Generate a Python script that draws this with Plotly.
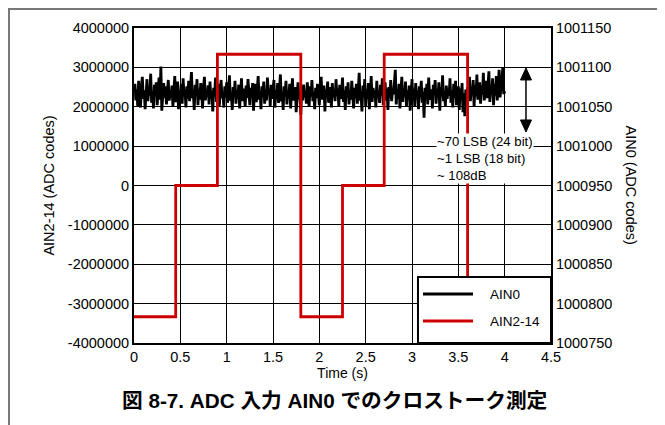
import numpy as np
import plotly.graph_objects as go

# ---- data ----
ain0_values = [
    1001068, 1001079, 1001058, 1001072, 1001051, 1001083, 1001062, 1001049, 1001075, 1001088, 1001060, 1001071, 1001047, 1001066, 1001085, 1001057, 1001073, 1001064, 1001092, 1001055,
    1001070, 1001048, 1001078, 1001063, 1001081, 1001052, 1001069, 1001087, 1001059, 1001101, 1001045, 1001067, 1001080, 1001061, 1001076, 1001053, 1001071, 1001084, 1001058, 1001066,
    1001062, 1001077, 1001050, 1001073, 1001089, 1001056, 1001068, 1001082, 1001047, 1001070, 1001063, 1001079, 1001054, 1001086, 1001065, 1001072, 1001049, 1001076, 1001060, 1001083,
    1001057, 1001071, 1001094, 1001061, 1001067, 1001046, 1001078, 1001064, 1001085, 1001052, 1001073, 1001059, 1001080, 1001066, 1001048, 1001075, 1001088, 1001058, 1001069, 1001063,
    1001077, 1001053, 1001082, 1001060, 1001071, 1001044, 1001074, 1001065, 1001087, 1001056, 1001068, 1001079, 1001050, 1001072, 1001084, 1001061, 1001066, 1001049, 1001076, 1001062,
    1001081, 1001055, 1001070, 1001090, 1001058, 1001067, 1001046, 1001075, 1001063, 1001083, 1001054, 1001071, 1001060, 1001078, 1001048, 1001069, 1001086, 1001057, 1001073, 1001064,
    1001050, 1001077, 1001061, 1001085, 1001066, 1001052, 1001074, 1001062, 1001080, 1001045, 1001068, 1001079, 1001056, 1001072, 1001089, 1001059, 1001070, 1001047, 1001076, 1001063,
    1001082, 1001054, 1001069, 1001058, 1001087, 1001065, 1001073, 1001051, 1001078, 1001060, 1001071, 1001084, 1001049, 1001067, 1001062, 1001080, 1001055, 1001074, 1001091, 1001057,
    1001068, 1001046, 1001076, 1001063, 1001083, 1001053, 1001070, 1001061, 1001079, 1001048, 1001072, 1001086, 1001058, 1001066, 1001075, 1001043, 1001069, 1001081, 1001060, 1001064,
    1001040, 1001073, 1001058, 1001078, 1001062, 1001070, 1001054, 1001081, 1001065, 1001050, 1001076, 1001063, 1001084, 1001057, 1001069, 1001047, 1001074, 1001061, 1001079, 1001066,
    1001052, 1001071, 1001088, 1001059, 1001067, 1001077, 1001044, 1001072, 1001063, 1001082, 1001055, 1001068, 1001075, 1001049, 1001080, 1001062, 1001070, 1001057, 1001085, 1001064,
    1001073, 1001051, 1001078, 1001060, 1001066, 1001087, 1001056, 1001071, 1001046, 1001076, 1001063, 1001081, 1001053, 1001069, 1001059, 1001083, 1001067, 1001048, 1001074, 1001061,
    1001079, 1001054, 1001070, 1001093, 1001058, 1001065, 1001044, 1001077, 1001062, 1001085, 1001051, 1001072, 1001060, 1001080, 1001047, 1001068, 1001089, 1001056, 1001074, 1001063,
    1001071, 1001049, 1001083, 1001061, 1001067, 1001055, 1001078, 1001064, 1001086, 1001052, 1001069, 1001081, 1001058, 1001073, 1001046, 1001075, 1001062, 1001084, 1001057, 1001070,
    1001066, 1001080, 1001097, 1001053, 1001072, 1001060, 1001079, 1001048, 1001068, 1001088, 1001056, 1001074, 1001063, 1001082, 1001050, 1001071, 1001059, 1001077, 1001045, 1001067,
    1001085, 1001058, 1001073, 1001051, 1001080, 1001064, 1001070, 1001047, 1001076, 1001062, 1001083, 1001055, 1001069, 1001036, 1001074, 1001061, 1001079, 1001053, 1001087, 1001065,
    1001059, 1001072, 1001048, 1001078, 1001066, 1001084, 1001054, 1001070, 1001062, 1001081, 1001045, 1001075, 1001063, 1001090, 1001057, 1001068, 1001051, 1001077, 1001060, 1001073,
    1001064, 1001086, 1001055, 1001071, 1001049, 1001079, 1001061, 1001083, 1001052, 1001069, 1001076, 1001046, 1001073, 1001058, 1001080, 1001043, 1001067, 1001038, 1001072, 1001056,
    1001075, 1001062, 1001088, 1001057, 1001073, 1001066, 1001084, 1001050, 1001078, 1001063, 1001091, 1001059, 1001070, 1001081, 1001054, 1001077, 1001065, 1001093, 1001058, 1001072,
    1001083, 1001061, 1001076, 1001095, 1001056, 1001074, 1001067, 1001086, 1001052, 1001079, 1001064, 1001089, 1001058, 1001077, 1001097, 1001062, 1001071, 1001085, 1001100, 1001066,
    1001070,
]
ain0_time_start = 0.0
ain0_time_end = 4.0
ain0_time = np.linspace(ain0_time_start, ain0_time_end, len(ain0_values))

ain2_time = [0.0, 0.45, 0.45, 0.9, 0.9, 1.8, 1.8, 2.25, 2.25, 2.7, 2.7, 3.6, 3.6, 4.0]
ain2_values = [-3333333, -3333333, 0, 0, 3333333, 3333333, -3333333, -3333333, 0, 0, 3333333, 3333333, -3333333, -3333333]

x_ticks = [0, 0.5, 1, 1.5, 2, 2.5, 3, 3.5, 4, 4.5]
left_ticks = [-4000000, -3000000, -2000000, -1000000, 0, 1000000, 2000000, 3000000, 4000000]
right_ticks = [1000750, 1000800, 1000850, 1000900, 1000950, 1001000, 1001050, 1001100, 1001150]

series_names = ["AIN0", "AIN2-14"]
series_colors = ["black", "#cc0000"]
annotation_lines = ["~70 LSB (24 bit)", "~1 LSB (18 bit)", "~ 108dB"]
caption = "図 8-7. ADC 入力 AIN0 でのクロストーク測定"

FONT = "Liberation Sans, Arial, sans-serif"
TICK = 14.5

fig = go.Figure()
fig.add_trace(go.Scatter(
    x=ain0_time, y=ain0_values, name=series_names[0], mode="lines",
    line=dict(color=series_colors[0], width=2.8), yaxis="y", showlegend=False,
))
fig.add_trace(go.Scatter(
    x=ain2_time, y=ain2_values, name=series_names[1], mode="lines",
    line=dict(color=series_colors[1], width=2.8), yaxis="y2", showlegend=False,
))

fig.update_layout(
    width=665, height=425,
    margin=dict(l=126, r=122, t=20, b=90),
    paper_bgcolor="white", plot_bgcolor="white",
    font=dict(family=FONT, size=TICK, color="black"),
    showlegend=False,
    xaxis=dict(
        range=[0, 4.5], tickvals=x_ticks, ticktext=[str(v) for v in x_ticks],
        tickfont=dict(size=TICK),
        showgrid=True, gridcolor="black", gridwidth=1,
        showline=True, linecolor="black", linewidth=2, mirror=True,
        zeroline=False, ticks="",
        title=dict(text="Time (s)", font=dict(size=14), standoff=0),
    ),
    yaxis=dict(
        range=[1000750, 1001150], tickvals=right_ticks,
        ticktext=[str(v) for v in right_ticks], tickfont=dict(size=TICK),
        side="right", showgrid=False, zeroline=False, ticks="",
        showline=True, linecolor="black", linewidth=2,
    ),
    yaxis2=dict(
        range=[-4000000, 4000000], tickvals=left_ticks,
        ticktext=[str(v) for v in left_ticks], tickfont=dict(size=TICK),
        side="left", overlaying="y", anchor="x",
        showgrid=True, gridcolor="black", gridwidth=1,
        zeroline=False, ticks="",
        showline=True, linecolor="black", linewidth=2,
    ),
)

# axis titles
fig.add_annotation(
    xref="paper", yref="paper", x=-0.206, y=0.5, xanchor="center", yanchor="middle",
    text="AIN2-14 (ADC codes)", textangle=-90, showarrow=False,
    font=dict(size=14.5),
)
fig.add_annotation(
    xref="paper", yref="paper", x=1.194, y=0.5, xanchor="center", yanchor="middle",
    text="AIN0 (ADC codes)", textangle=90, showarrow=False,
    font=dict(size=14.5),
)

# double-headed arrow drawn as shapes (paper coordinates)
ax_x = 0.940
top_tip, top_base = 0.873, 0.835
bot_tip, bot_base = 0.6698, 0.708
half_w = 0.0132
fig.add_shape(
    type="line", xref="paper", yref="paper",
    x0=ax_x, x1=ax_x, y0=bot_base, y1=top_base,
    line=dict(color="black", width=1.5), layer="above",
)
for tip, base in [(top_tip, top_base), (bot_tip, bot_base)]:
    fig.add_shape(
        type="path", xref="paper", yref="paper",
        path=f"M {ax_x},{tip} L {ax_x - half_w},{base} L {ax_x + half_w},{base} Z",
        fillcolor="black", line=dict(color="black", width=1), layer="above",
    )

# annotation text
fig.add_annotation(
    xref="paper", yref="paper", x=0.724, y=0.667, xanchor="left", yanchor="top",
    text="<br>".join(annotation_lines), align="left",
    showarrow=False, bgcolor="white", font=dict(size=13.2), borderpad=0,
)

# custom legend
fig.add_shape(
    type="rect", xref="paper", yref="paper",
    x0=0.681, x1=1.0, y0=0.0, y1=0.2095,
    fillcolor="white", line=dict(color="black", width=2), layer="above",
)
legend_line_y = [0.1556, 0.0698]
legend_text_y = [0.1524, 0.0667]
for name, color, ly, ty in zip(series_names, series_colors, legend_line_y, legend_text_y):
    fig.add_shape(
        type="line", xref="paper", yref="paper",
        x0=0.693, x1=0.813, y0=ly, y1=ly,
        line=dict(color=color, width=2.8), layer="above",
    )
    fig.add_annotation(
        xref="paper", yref="paper", x=0.849, y=ty, xanchor="left", yanchor="middle",
        text=name, showarrow=False, font=dict(size=13.5),
    )

# figure caption
fig.add_annotation(
    xref="paper", yref="paper", x=0.480, y=-0.181, xanchor="center", yanchor="middle",
    text="<b>" + caption + "</b>",
    showarrow=False,
    font=dict(family="Liberation Sans, Noto Sans CJK JP, sans-serif", size=20.7),
)

# grey outer frame
fig.add_shape(
    type="rect", xref="paper", yref="paper",
    x0=-0.2998, x1=1.259, y0=-0.35, y1=1.0603,
    line=dict(color="#777777", width=2), layer="below",
)

fig.write_html("out.html")
